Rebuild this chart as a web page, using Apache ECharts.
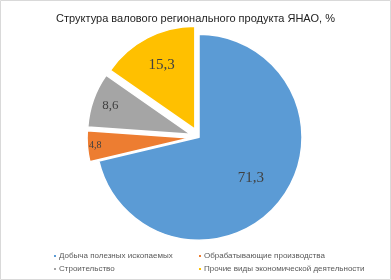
<!DOCTYPE html>
<html>
<head>
<meta charset="utf-8">
<script src="https://cdn.jsdelivr.net/npm/echarts@6/dist/echarts.min.js"></script>
<style>
  html, body { margin: 0; padding: 0; background: #fff; }
  #chart { width: 391px; height: 280px; }
</style>
</head>
<body>
<div id="chart"></div>
<script>
// данные
var categories = [
  "Добыча полезных ископаемых",
  "Обрабатывающие производства",
  "Строительство",
  "Прочие виды экономической деятельности"
];
var values = [71.3, 4.8, 8.6, 15.3];
var colors = ["#5B9BD5", "#ED7D31", "#A5A5A5", "#FFC000"];

// label look per slice (radius from centre in px, font size)
var labelRadius = [66, 95, 85, 72];
var labelSize = [15, 10, 13, 15];

var R = 103;
var chart = echarts.init(document.getElementById("chart"));

function pieCenter() {
  return [chart.getWidth() * 0.509, chart.getHeight() * 0.49];
}

var pieData = values.map(function(v, i) {
  return {
    name: categories[i],
    value: v,
    selected: i !== 0,
    itemStyle: { color: colors[i] },
    label: { fontSize: labelSize[i] }
  };
});

var legendText = { fontFamily: "Liberation Sans", fontSize: 8, color: "#595959", lineHeight: 10, padding: [0, 0, 0, -3] };

chart.setOption({
  animation: false,
  title: {
    text: "Структура валового регионального продукта ЯНАО, %",
    left: "center",
    top: 8,
    textStyle: {
      fontFamily: "Liberation Sans",
      fontSize: 11,
      fontWeight: "normal",
      color: "#222"
    }
  },
  legend: [
    {
      orient: "vertical",
      left: 52,
      top: 251,
      padding: 0,
      data: [categories[0], categories[2]],
      icon: "rect",
      itemWidth: 4,
      itemHeight: 4,
      itemGap: 3,
      selectedMode: false,
      textStyle: legendText
    },
    {
      orient: "vertical",
      left: 197,
      top: 251,
      padding: 0,
      data: [categories[1], categories[3]],
      icon: "rect",
      itemWidth: 4,
      itemHeight: 4,
      itemGap: 3,
      selectedMode: false,
      textStyle: legendText
    }
  ],
  graphic: [
    {
      type: "rect",
      shape: { x: 0.5, y: 0.5, width: 390, height: 279 },
      style: { fill: "none", stroke: "#d9d9d9", lineWidth: 1 },
      silent: true
    }
  ],
  series: [
    {
      type: "pie",
      center: ["50.9%", "49%"],
      radius: [0, R],
      startAngle: 90,
      clockwise: true,
      selectedMode: "multiple",
      selectedOffset: 9,
      avoidLabelOverlap: false,
      itemStyle: { borderColor: "#fff", borderWidth: 1.5 },
      emphasis: { disabled: true },
      label: {
        show: true,
        position: "inside",
        fontFamily: "Liberation Serif",
        color: "#404040",
        formatter: function(p) {
          return String(p.value).replace(".", ",");
        }
      },
      labelLine: { show: false },
      labelLayout: function(params) {
        var c = pieCenter();
        var lr = params.labelRect;
        var lx = lr.x + lr.width / 2;
        var ly = lr.y + lr.height / 2;
        var vx = lx - c[0];
        var vy = ly - c[1];
        var d = Math.sqrt(vx * vx + vy * vy) || 1;
        var k = (labelRadius[params.dataIndex] - d) / d;
        return { dx: vx * k, dy: vy * k };
      },
      data: pieData
    }
  ]
});
</script>
</body>
</html>
